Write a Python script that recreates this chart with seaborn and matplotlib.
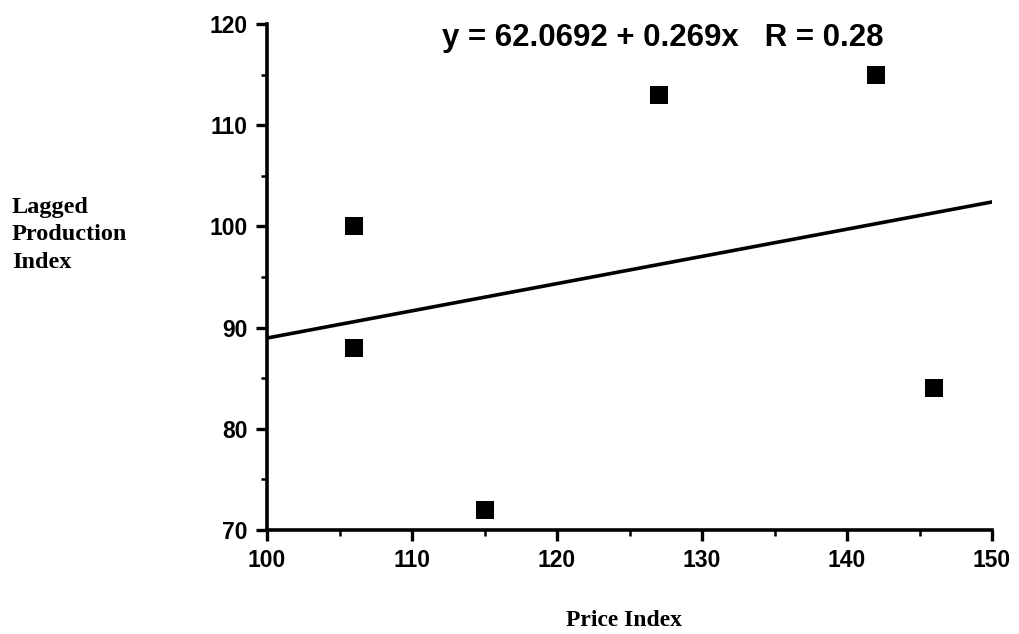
import numpy as np
import pandas as pd
import matplotlib
matplotlib.use("Agg")
import matplotlib.pyplot as plt
import seaborn as sns
from matplotlib.ticker import MultipleLocator

price_index = [106, 106, 115, 127, 142, 146]
lagged_production = [100, 88, 72, 113, 115, 84]
x_ticks = [100, 110, 120, 130, 140, 150]
y_ticks = [70, 80, 90, 100, 110, 120]
equation_text = "y = 62.0692 + 0.269x   R = 0.28"

sns.set_theme(style="ticks")
plt.rcParams['font.family'] = ['Liberation Sans', 'DejaVu Sans']
plt.rcParams['text.color'] = 'black'
plt.rcParams['axes.labelcolor'] = 'black'
plt.rcParams['xtick.color'] = 'black'
plt.rcParams['ytick.color'] = 'black'

df = pd.DataFrame({"Price Index": price_index, "Lagged Production Index": lagged_production})

fig = plt.figure(figsize=(10.19, 6.34), dpi=100)
ax = fig.add_axes([267/1019, 1 - 530/634, (992 - 267)/1019, (530 - 24)/634])
ax.set_xlim(100, 150)
ax.set_ylim(70, 120)

sns.regplot(data=df, x="Price Index", y="Lagged Production Index", ax=ax, ci=None,
            truncate=False, marker="s", color="black",
            scatter_kws=dict(s=150, edgecolor="black", linewidths=0, alpha=1, zorder=3),
            line_kws=dict(lw=2.6, color="black"))
ax.set_xlim(100, 150)
ax.set_ylim(70, 120)

ax.set_xticks(x_ticks)
ax.set_yticks(y_ticks)
ax.xaxis.set_minor_locator(MultipleLocator(5))
ax.yaxis.set_minor_locator(MultipleLocator(5))
ax.tick_params(which="major", direction="out", length=8, width=2.4, labelsize=16.5, pad=6,
               colors="black", labelcolor="black")
ax.tick_params(which="minor", direction="out", length=4.5, width=1.8, colors="black")
for lab in ax.get_xticklabels() + ax.get_yticklabels():
    lab.set_fontweight("bold")
    lab.set_color("black")
for s in ["top", "right"]:
    ax.spines[s].set_visible(False)
for s in ["left", "bottom"]:
    ax.spines[s].set_linewidth(2.6)
    ax.spines[s].set_color("black")

ax.set_xlabel("")
ax.set_ylabel("")
fig.text(624/1019, 1 - 620/634, "Price Index", ha="center", va="center", color="black",
         family=["Liberation Serif"], fontweight="bold", fontsize=17)
fig.text(12/1019, 1 - 235/634, "Lagged\nProduction\nIndex", ha="left", va="center", color="black",
         family=["Liberation Serif"], fontweight="bold", fontsize=17.5, linespacing=1.42)
ax.text((663 - 267)/725, 1 - (46 - 24)/506, equation_text, transform=ax.transAxes, ha="center",
        va="baseline", fontsize=22.5, fontweight="bold", color="black")

fig.savefig("out.png", dpi=100, facecolor="white")
